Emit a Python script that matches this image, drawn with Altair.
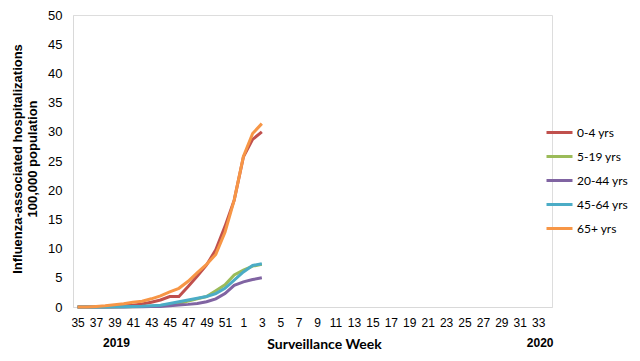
import altair as alt
import pandas as pd

# ---- data ----
all_weeks = [str(w) for w in list(range(35, 53)) + list(range(1, 35))]
label_weeks = [str(w) for w in list(range(35, 52, 2)) + list(range(1, 34, 2))]
data_weeks = [str(w) for w in list(range(35, 53)) + [1, 2, 3]]

groups = ["0-4 yrs", "5-19 yrs", "20-44 yrs", "45-64 yrs", "65+ yrs"]
colors = ["#C0504D", "#9BBB59", "#8064A2", "#4BACC6", "#F79646"]

v_0_4 = [0, 0.01, 0.03, 0.06, 0.1, 0.2, 0.3, 0.5, 0.8, 1.2, 1.8, 1.8, 3.5, 5.3, 7.2, 9.8, 13.8, 18.3, 25.7, 28.7, 30.0]
v_5_19 = [0, 0, 0, 0.01, 0.02, 0.03, 0.05, 0.08, 0.15, 0.25, 0.4, 0.6, 1.0, 1.4, 1.8, 2.8, 3.8, 5.5, 6.3, 7.0, 7.3]
v_20_44 = [0, 0, 0, 0, 0.01, 0.02, 0.03, 0.05, 0.07, 0.1, 0.2, 0.35, 0.45, 0.6, 0.9, 1.4, 2.3, 3.7, 4.3, 4.7, 5.0]
v_45_64 = [0, 0, 0.01, 0.02, 0.03, 0.05, 0.08, 0.12, 0.2, 0.3, 0.6, 0.9, 1.2, 1.5, 1.8, 2.3, 3.2, 4.6, 6.0, 7.1, 7.4]
v_65 = [0, 0.02, 0.1, 0.2, 0.4, 0.55, 0.8, 1.0, 1.4, 1.9, 2.6, 3.2, 4.4, 5.9, 7.3, 9.0, 12.8, 18.3, 25.8, 29.7, 31.4]

year_labels = ["2019", "2020"]
year_weeks = ["39", "33"]

series = [v_0_4, v_5_19, v_20_44, v_45_64, v_65]
rows = []
for g_i, (g, vals) in enumerate(zip(groups, series)):
    for i, (w, v) in enumerate(zip(data_weeks, vals)):
        rows.append({"week": w, "value": v, "group": g, "order": i, "gi": g_i})
df = pd.DataFrame(rows)
years_df = pd.DataFrame({"week": year_weeks, "label": year_labels})

ARIAL = "Liberation Sans, Arial, sans-serif"
CAL = "Lato, Carlito, Calibri, sans-serif"

xscale = alt.Scale(domain=all_weeks, padding=0.5)

lines = alt.Chart(df).mark_line(strokeWidth=3).encode(
    x=alt.X("week:O", scale=xscale, sort=all_weeks,
            axis=alt.Axis(values=label_weeks, labelAngle=0, ticks=False,
                          labelPadding=10, labelFont=ARIAL, labelFontSize=12,
                          labelColor="#000000", labelOverlap=False,
                          domainColor="#d9d9d9", domainWidth=1,
                          title="Surveillance Week", titleFont=CAL,
                          titleFontSize=14, titleFontWeight="bold",
                          titleX=251, titleY=37, titleBaseline="middle",
                          titleAlign="center", titleColor="#000000")),
    y=alt.Y("value:Q", scale=alt.Scale(domain=[0, 50], nice=False),
            axis=alt.Axis(values=list(range(0, 51, 5)), ticks=False, grid=False,
                          labelPadding=11, labelFont=ARIAL, labelFontSize=13,
                          labelColor="#000000",
                          domainColor="#d9d9d9", domainWidth=1,
                          title=["Influenza-associated hospitalizations", "100,000 population"],
                          titleFont=ARIAL, titleFontSize=13, titleFontWeight="bold",
                          titleLineHeight=15, titleX=-56, titleY=143.5,
                          titleBaseline="middle", titleAlign="center",
                          titleAngle=270, titleColor="#000000")),
    color=alt.Color("group:N", scale=alt.Scale(domain=groups, range=colors),
                    sort=groups,
                    legend=alt.Legend(title=None, orient="none", legendX=472,
                                      legendY=103, symbolType="stroke",
                                      symbolSize=676, symbolStrokeWidth=3,
                                      labelFont=CAL, labelFontSize=12,
                                      labelColor="#000000", labelOffset=3,
                                      rowPadding=3, padding=0)),
    order=alt.Order("order:Q"),
    detail="group:N",
)

years = alt.Chart(years_df).mark_text(font=ARIAL, fontSize=12, fontWeight="bold",
                                      color="#000000", baseline="middle", dx=2).encode(
    x=alt.X("week:O", scale=xscale, sort=all_weeks),
    y=alt.value(328),
    text="label:N",
)

chart = alt.layer(lines, years).properties(
    width=479, height=292,
    autosize=alt.AutoSizeParams(type="none"),
    padding={"left": 65, "top": 7, "right": 80, "bottom": 46},
).configure_view(stroke=None).configure(background="white")

chart.save("out.html", embed_options={"renderer": "svg", "actions": False})
